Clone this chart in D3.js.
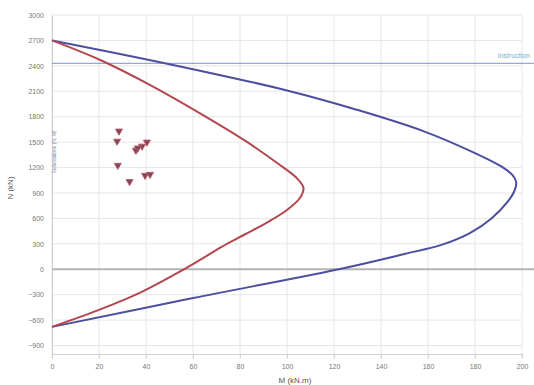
<!DOCTYPE html>
<html><head><meta charset="utf-8">
<script src="https://cdn.jsdelivr.net/npm/d3@7"></script>
<style>body{margin:0;background:#fff}svg{display:block;font-family:"Liberation Sans",Arial,sans-serif}</style>
</head><body><svg id="c" width="534" height="385"></svg>
<script>
// Data
const xTicks = [0,20,40,60,80,100,120,140,160,180,200];
const yTicks = [-900,-600,-300,0,300,600,900,1200,1500,1800,2100,2400,2700,3000];
const blueM = [0,50,100,130,158,180,192,196,197.5,197,194,187,178,166,150,122,60,0];
const blueN = [2700,2420,2110,1880,1630,1370,1200,1110,1030,940,800,600,430,290,180,0,-340,-680];
const redM = [0,21,42,63,82,96,104,107,105.5,100,92,82,72,63,53,38,20,0];
const redN = [2700,2463,2170,1840,1520,1250,1080,960,840,700,560,410,260,110,-50,-270,-480,-680];
const ptM = [28.5,27.7,35.7,38.3,40.4,36.5,28,33,39.6,41.7];
const ptN = [1630,1511,1404,1452,1500,1430,1226,1035,1107,1119];
const limitN = 2430;
const limitLabel = "Instruction";

const svg = d3.select("#c");
const x = d3.scaleLinear().domain([0,200]).range([52,522]);
const y = d3.scaleLinear().domain([-1000,3000]).range([354,15]);
const fmt = d3.format("d");

// grid
svg.append("g").selectAll("line").data(yTicks).join("line")
  .attr("x1",52).attr("x2",522).attr("y1",d=>y(d)).attr("y2",d=>y(d))
  .attr("stroke","#e6e6e6").attr("stroke-width",1);
svg.append("g").selectAll("line").data(xTicks).join("line")
  .attr("x1",d=>x(d)).attr("x2",d=>x(d)).attr("y1",y(3000)).attr("y2",y(-1000)+5)
  .attr("stroke","#e6e6e6").attr("stroke-width",1);

// axes
const xa = svg.append("g").attr("transform",`translate(0,${y(-1000)})`)
  .call(d3.axisBottom(x).tickValues(xTicks).tickFormat(fmt).tickSize(4).tickPadding(6));
xa.select(".domain").attr("stroke","#d0d0d0");
xa.selectAll(".tick line").attr("stroke","#d0d0d0");
xa.selectAll("text").attr("fill","#777").attr("font-size",7);
const ya = svg.append("g").attr("transform","translate(52,0)")
  .call(d3.axisLeft(y).tickValues(yTicks).tickFormat(fmt).tickSize(0).tickPadding(8));
ya.select(".domain").attr("stroke","#d0d0d0");
ya.selectAll("text").attr("fill","#777").attr("font-size",7);

// zero line
svg.append("line").attr("x1",52).attr("x2",534).attr("y1",y(0)).attr("y2",y(0))
  .attr("stroke","#b4b4b4").attr("stroke-width",2);
// limit line
svg.append("line").attr("x1",52).attr("x2",534).attr("y1",y(limitN)).attr("y2",y(limitN))
  .attr("stroke","#7f93d8").attr("stroke-width",1);
svg.append("text").attr("x",530).attr("y",y(limitN)-5).attr("text-anchor","end")
  .attr("font-size",7).attr("fill","#78aed0").text(limitLabel);

const line = d3.line().x(d=>x(d[0])).y(d=>y(d[1])).curve(d3.curveCatmullRom.alpha(0.5));
svg.append("path").datum(blueM.map((m,i)=>[m,blueN[i]])).attr("d",line)
  .attr("fill","none").attr("stroke","#4b4f9e").attr("stroke-width",2);
svg.append("path").datum(redM.map((m,i)=>[m,redN[i]])).attr("d",line)
  .attr("fill","none").attr("stroke","#b4464e").attr("stroke-width",2);

// points
const tri = d3.symbol().type(d3.symbolTriangle).size(22);
svg.append("g").selectAll("path").data(ptM.map((m,i)=>[m,ptN[i]])).join("path")
  .attr("d",tri).attr("transform",d=>`translate(${x(d[0])},${y(d[1])}) rotate(180)`)
  .attr("fill","#7d4a5c").attr("stroke","#c05060").attr("stroke-width",0.8);

// faint vertical label
svg.append("text").attr("transform",`translate(56,152) rotate(-90)`).attr("text-anchor","middle")
  .attr("font-size",5).attr("fill","#7a88aa").text("Sollicitations (N, M)");

// axis titles
svg.append("text").attr("transform",`translate(13,188) rotate(-90)`).attr("text-anchor","middle")
  .attr("font-size",8).attr("fill","#555").text("N (kN)");
svg.append("text").attr("x",295).attr("y",383).attr("text-anchor","middle")
  .attr("font-size",8).attr("fill","#555").text("M (kN.m)");
</script></body></html>
